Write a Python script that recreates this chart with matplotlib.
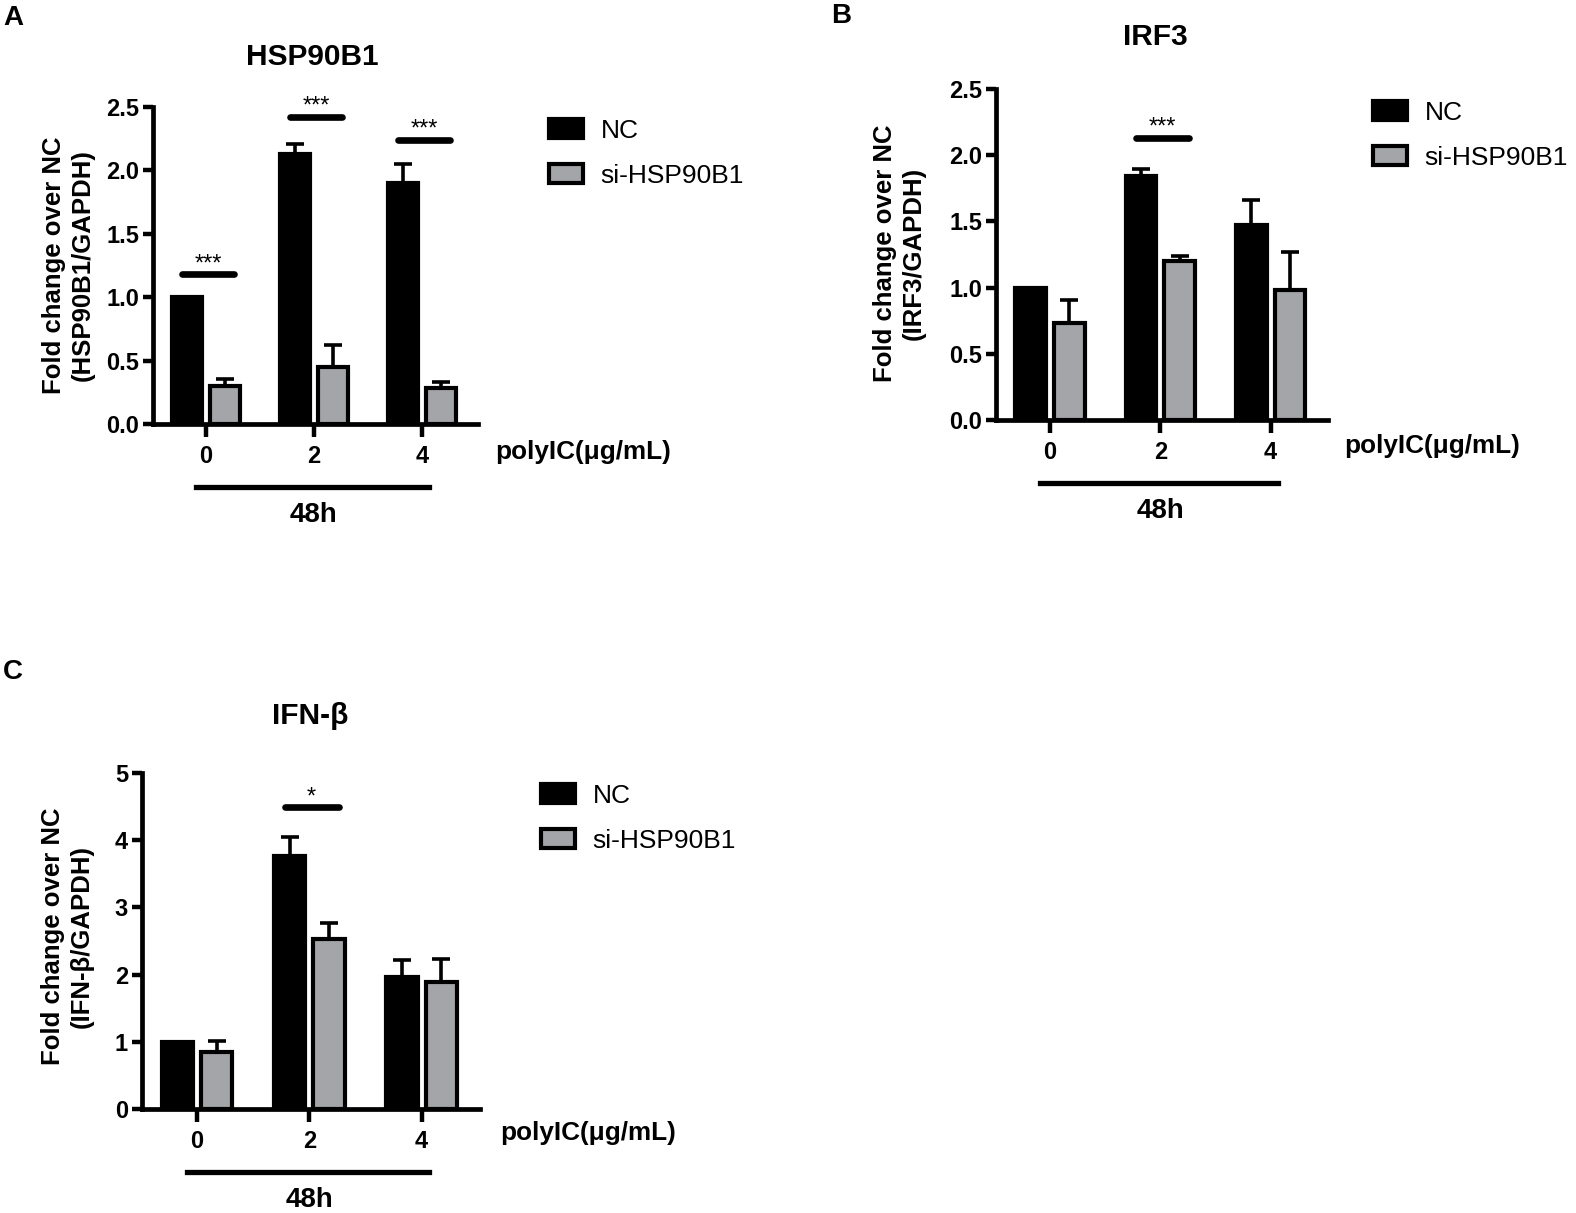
import numpy as np
import matplotlib
matplotlib.use("Agg")
import matplotlib.pyplot as plt

plt.rcParams['font.family'] = ['Liberation Sans', 'DejaVu Sans']
plt.rcParams['font.weight'] = 'bold'

# data
doses = ['0', '2', '4']
series = ['NC', 'si-HSP90B1']

hsp_nc = [1.00, 2.13, 1.90]
hsp_nc_err = [0.00, 0.08, 0.15]
hsp_si = [0.30, 0.45, 0.28]
hsp_si_err = [0.055, 0.17, 0.055]
hsp_sig_group = [0, 1, 2]
hsp_sig_y = [1.18, 2.42, 2.24]
hsp_sig_txt = ['***', '***', '***']

irf_nc = [1.00, 1.84, 1.47]
irf_nc_err = [0.00, 0.055, 0.19]
irf_si = [0.73, 1.20, 0.98]
irf_si_err = [0.18, 0.04, 0.29]
irf_sig_group = [1]
irf_sig_y = [2.13]
irf_sig_txt = ['***']

ifn_nc = [1.00, 3.77, 1.96]
ifn_nc_err = [0.00, 0.28, 0.25]
ifn_si = [0.85, 2.53, 1.89]
ifn_si_err = [0.16, 0.24, 0.34]
ifn_sig_group = [1]
ifn_sig_y = [4.49]
ifn_sig_txt = ['*']

W, H = 1576, 1213
GRAY = '#a4a5a9'
fig = plt.figure(figsize=(W / 100, H / 100), dpi=100)


def panel(box, ymax, yticks, yfmt, nc, nc_err, si, si_err,
          sig_group, sig_y, sig_txt, title, title_xy, ylab, ylab_xy,
          leg_xy, poly_xy, letter, letter_xy):
    l, t, r, b = box
    ax = fig.add_axes([l / W, 1 - b / H, (r - l) / W, (b - t) / H])
    hpx = b - t
    x = np.arange(len(doses))
    off, wd = 0.175, 0.28
    ax.bar(x - off, nc, wd, color='black', edgecolor='black', lw=3.0,
           label=series[0], zorder=2)
    ax.bar(x + off, si, wd, color=GRAY, edgecolor='black', lw=3.0,
           label=series[1], zorder=2)
    for xs, v, e in ((x - off, nc, nc_err), (x + off, si, si_err)):
        ax.errorbar(xs, v, yerr=[np.zeros(len(v)), e], fmt='none',
                    ecolor='black', elinewidth=2.6, capsize=6.5,
                    capthick=2.6, zorder=3)

    for g, y, s in zip(sig_group, sig_y, sig_txt):
        ax.plot([g - 0.22, g + 0.26], [y, y], color='black', lw=4.8,
                solid_capstyle='round', clip_on=False, zorder=4)
        ax.annotate(s, (g + 0.02, y), xytext=(0, 3), textcoords='offset points',
                    ha='center', va='baseline', fontsize=17,
                    fontweight='normal', annotation_clip=False)

    ax.set_xlim(-0.49, 2.52)
    ax.set_ylim(0, ymax)
    ax.set_xticks(x)
    ax.set_xticklabels(doses)
    ax.set_yticks(yticks)
    ax.set_yticklabels([yfmt.format(v) for v in yticks])
    for side in ('top', 'right'):
        ax.spines[side].set_visible(False)
    for side in ('left', 'bottom'):
        ax.spines[side].set_linewidth(3.4)
    ax.tick_params(axis='y', length=7, width=3.2, pad=3, labelsize=17)
    ax.tick_params(axis='x', length=9, width=3.2, pad=6, labelsize=17)

    # 48h bracket under the doses
    xt = ax.get_xaxis_transform()
    ax.plot([-0.09, 2.07], [-63 / hpx] * 2, transform=xt, color='black',
            lw=3.8, clip_on=False)
    ax.text(1, -91 / hpx, '48h', transform=xt, ha='center', va='center',
            fontsize=20)

    ax.legend(loc='upper left', bbox_to_anchor=(leg_xy[0] / W, 1 - leg_xy[1] / H),
              bbox_transform=fig.transFigure, frameon=False,
              prop={'size': 19, 'weight': 'normal'},
              handlelength=1.3, handleheight=0.75, handletextpad=0.65,
              labelspacing=0.78, borderpad=0, borderaxespad=0)

    fig.text(title_xy[0] / W, 1 - title_xy[1] / H, title, ha='center',
             va='center', fontsize=21.5)
    fig.text(ylab_xy[0] / W, 1 - ylab_xy[1] / H, ylab, rotation=90,
             ha='center', va='center', fontsize=18.5, linespacing=1.25)
    fig.text(poly_xy[0] / W, 1 - poly_xy[1] / H, 'polyIC(\u03bcg/mL)',
             ha='left', va='center', fontsize=18.8)
    fig.text(letter_xy[0] / W, 1 - letter_xy[1] / H, letter, ha='left',
             va='center', fontsize=20)
    return ax


panel((153, 107, 478, 424), 2.5, [0, 0.5, 1.0, 1.5, 2.0, 2.5], '{:.1f}',
      hsp_nc, hsp_nc_err, hsp_si, hsp_si_err,
      hsp_sig_group, hsp_sig_y, hsp_sig_txt,
      'HSP90B1', (312, 57),
      'Fold change over NC\n(HSP90B1/GAPDH)', (68, 265),
      (549, 119), (495, 452), 'A', (3, 18))

panel((996, 89, 1328, 420), 2.5, [0, 0.5, 1.0, 1.5, 2.0, 2.5], '{:.1f}',
      irf_nc, irf_nc_err, irf_si, irf_si_err,
      irf_sig_group, irf_sig_y, irf_sig_txt,
      'IRF3', (1155, 37),
      'Fold change over NC\n(IRF3/GAPDH)', (899, 253),
      (1373, 101), (1344, 446), 'B', (831, 16))

panel((142, 773, 480, 1109), 5, [0, 1, 2, 3, 4, 5], '{:d}',
      ifn_nc, ifn_nc_err, ifn_si, ifn_si_err,
      ifn_sig_group, ifn_sig_y, ifn_sig_txt,
      'IFN-\u03b2', (310, 716),
      'Fold change over NC\n(IFN-\u03b2/GAPDH)', (67, 936),
      (541, 784), (500, 1133), 'C', (3, 672))

fig.savefig('out.png', dpi=100)
